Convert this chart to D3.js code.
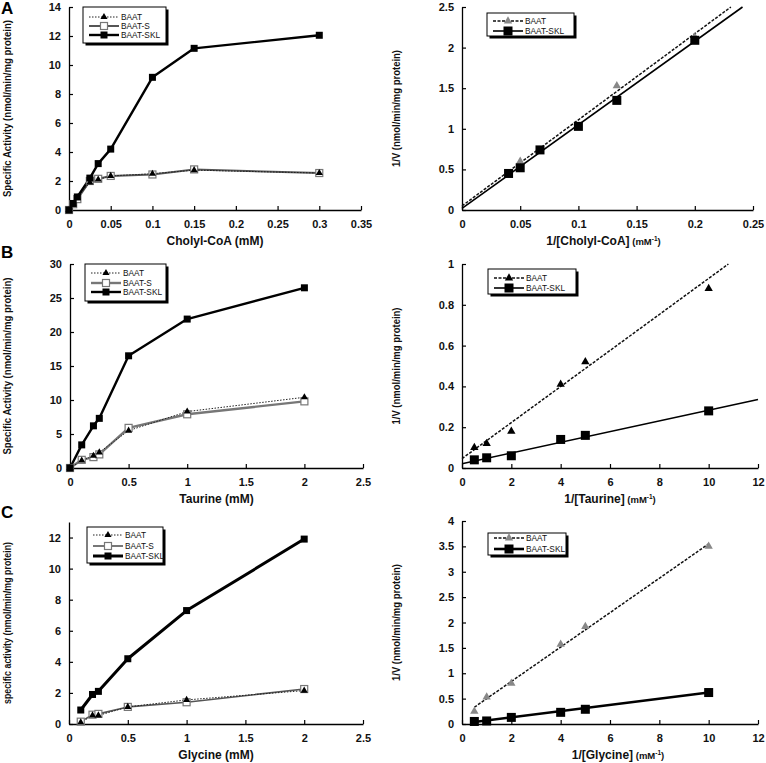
<!DOCTYPE html>
<html><head><meta charset="utf-8">
<script src="https://cdn.jsdelivr.net/npm/d3@7"></script>
<style>body{margin:0;background:#fff}svg{display:block}text{font-family:"Liberation Sans",Arial,Helvetica,sans-serif}</style>
</head><body><svg id="c" width="766" height="763"></svg>
<script>
// ---------- DATA ----------
// Panel A (cholyl-CoA)
const cholylX      = [0, 0.005, 0.01, 0.025, 0.035, 0.05, 0.1, 0.15, 0.3];
const cholylBAAT   = [0, 0.40, 0.85, 1.90, 2.10, 2.35, 2.50, 2.75, 2.55];
const cholylBAATS  = [0, 0.40, 0.75, 2.00, 2.15, 2.35, 2.45, 2.80, 2.55];
const cholylSKL    = [0, 0.45, 0.90, 2.20, 3.20, 4.20, 9.15, 11.15, 12.05];
const cholylInvBAATX = [0.05, 0.133, 0.2];
const cholylInvBAATY = [0.60, 1.53, 2.13];
const cholylInvSKLX  = [0.04, 0.05, 0.067, 0.1, 0.133, 0.2];
const cholylInvSKLY  = [0.45, 0.52, 0.74, 1.03, 1.35, 2.09];
const cholylFitBAATX = [0, 0.231];
const cholylFitBAATY = [0.05, 2.5];
const cholylFitSKLX  = [0, 0.241];
const cholylFitSKLY  = [0.02, 2.5];
// Panel B (taurine)
const taurineX     = [0, 0.1, 0.2, 0.25, 0.5, 1, 2];
const taurineBAAT  = [0, 1.1, 1.8, 2.3, 5.5, 8.3, 10.4];
const taurineBAATS = [0, 1.2, 1.6, 2.0, 5.9, 7.9, 9.8];
const taurineSKL   = [0, 3.4, 6.2, 7.3, 16.5, 21.9, 26.5];
const taurineInvX     = [0.5, 1, 2, 4, 5, 10];
const taurineInvBAAT  = [0.10, 0.12, 0.18, 0.41, 0.52, 0.88];
const taurineInvSKL   = [0.04, 0.05, 0.06, 0.14, 0.16, 0.28];
const taurineFitBAATX = [0, 10.8];
const taurineFitBAATY = [0.046, 1.0];
const taurineFitSKLX  = [0, 12];
const taurineFitSKLY  = [0.021, 0.336];
// Panel C (glycine)
const glycineX     = [0.1, 0.2, 0.25, 0.5, 1, 2];
const glycineBAAT  = [0.10, 0.55, 0.55, 1.10, 1.55, 2.15];
const glycineBAATS = [0.15, 0.60, 0.65, 1.10, 1.40, 2.25];
const glycineSKL   = [0.90, 1.90, 2.10, 4.20, 7.30, 11.90];
const glycineInvX     = [0.5, 1, 2, 4, 5, 10];
const glycineInvBAAT  = [0.25, 0.53, 0.80, 1.57, 1.92, 3.50];
const glycineInvSKL   = [0.05, 0.06, 0.13, 0.23, 0.29, 0.62];
const glycineFitBAATX = [0.5, 10];
const glycineFitBAATY = [0.33, 3.55];
const glycineFitSKLX  = [0.5, 10];
const glycineFitSKLY  = [0.04, 0.62];
// Ticks
const ticksCholylX = [0, 0.05, 0.1, 0.15, 0.2, 0.25, 0.3, 0.35];
const ticksActA    = [0, 2, 4, 6, 8, 10, 12, 14];
const ticksInvCholylX = [0, 0.05, 0.1, 0.15, 0.2, 0.25];
const ticksInvA    = [0, 0.5, 1, 1.5, 2, 2.5];
const ticksConc    = [0, 0.5, 1, 1.5, 2, 2.5];
const ticksActB    = [0, 5, 10, 15, 20, 25, 30];
const ticksInvConc = [0, 2, 4, 6, 8, 10, 12];
const ticksInvB    = [0, 0.2, 0.4, 0.6, 0.8, 1];
const ticksActC    = [0, 2, 4, 6, 8, 10, 12];
const ticksInvC    = [0, 0.5, 1, 1.5, 2, 2.5, 3, 3.5, 4];
const seriesNames3 = ["BAAT", "BAAT-S", "BAAT-SKL"];
const seriesNames2 = ["BAAT", "BAAT-SKL"];
const panelLetters = ["A", "B", "C"];

// ---------- DRAWING ----------
const svg = d3.select("#c");
const fmt = d => String(+d.toFixed(3));
const zip = (xs, ys) => xs.map((x, i) => [x, ys[i]]);

function marker(g, type, x, y, st) {
  if (type === "tri") {
    g.append("path").attr("d", d3.symbol(d3.symbolTriangle, st.size)())
      .attr("transform", `translate(${x},${y})`).attr("fill", st.fill).attr("stroke", "none");
  } else {
    const s = st.size;
    g.append("rect").attr("x", x - s / 2).attr("y", y - s / 2).attr("width", s).attr("height", s)
      .attr("fill", st.fill).attr("stroke", st.stroke || "none").attr("stroke-width", st.sw || 0);
  }
}

function panel(c) {
  const x = d3.scaleLinear().domain(c.xd).range([c.left, c.right]);
  const y = d3.scaleLinear().domain(c.yd).range([c.bottom, c.top]);
  const g = svg.append("g");
  const ax = g.append("g").attr("transform", `translate(0,${c.bottom})`)
    .call(d3.axisBottom(x).tickValues(c.xt).tickFormat(fmt).tickSizeInner(-4).tickSizeOuter(0).tickPadding(8));
  const ay = g.append("g").attr("transform", `translate(${c.left},0)`)
    .call(d3.axisLeft(y).tickValues(c.yt).tickFormat(fmt).tickSizeInner(-4).tickSizeOuter(0).tickPadding(8));
  [ax, ay].forEach(a => {
    a.select(".domain").attr("stroke", "#000").attr("stroke-width", 1.3);
    a.selectAll(".tick line").attr("stroke", "#000").attr("stroke-width", 1.2);
    a.selectAll("text").attr("font-size", 11).attr("font-weight", "bold").attr("fill", "#111")
      .attr("font-family", '"Liberation Sans",Arial,sans-serif');
  });
  ax.selectAll(".tick text").attr("dy", "0.95em");
  const xt = g.append("text").attr("x", (c.left + c.right) / 2 + (c.xtOff || 0)).attr("y", c.bottom + 35)
    .attr("text-anchor", "middle").attr("font-size", 12).attr("font-weight", "bold").attr("fill", "#111");
  xt.append("tspan").text(c.xTitle);
  if (c.xUnit) {
    xt.append("tspan").attr("font-size", 9.5).text(" (mM");
    xt.append("tspan").attr("font-size", 6.5).attr("dy", -4).text("-1");
    xt.append("tspan").attr("font-size", 9.5).attr("dy", 4).text(")");
  }
  g.append("text").attr("transform", `translate(${c.ytx},${(c.top + c.bottom) / 2}) rotate(-90)`)
    .attr("text-anchor", "middle").attr("font-size", 10).attr("font-weight", "bold").attr("fill", "#111")
    .attr("textLength", c.ytLen).attr("lengthAdjust", "spacingAndGlyphs")
    .text(c.yTitle);
  if (c.letter) {
    g.append("text").attr("x", 1).attr("y", c.letterY).attr("font-size", 17).attr("font-weight", "bold")
      .attr("fill", "#000").text(c.letter);
  }
  (c.fits || []).forEach(f => {
    g.append("path").attr("d", d3.line().x(d => x(d[0])).y(d => y(d[1]))(zip(f.xs, f.ys)))
      .attr("fill", "none").attr("stroke", f.stroke).attr("stroke-width", f.sw)
      .attr("stroke-dasharray", f.dash || null);
  });
  c.series.forEach(s => {
    if (s.line) {
      g.append("path").attr("d", d3.line().x(d => x(d[0])).y(d => y(d[1]))(zip(s.xs, s.ys)))
        .attr("fill", "none").attr("stroke", s.line.stroke).attr("stroke-width", s.line.sw)
        .attr("stroke-dasharray", s.line.dash || null).attr("stroke-linejoin", "round");
    }
  });
  c.series.forEach(s => zip(s.xs, s.ys).forEach(d => marker(g, s.mk, x(d[0]), y(d[1]), s.ms)));
  const L = c.legend;
  g.append("rect").attr("x", L.x + 2.5).attr("y", L.y + 2.5).attr("width", L.w).attr("height", L.h).attr("fill", "#000");
  g.append("rect").attr("x", L.x).attr("y", L.y).attr("width", L.w).attr("height", L.h)
    .attr("fill", "#fff").attr("stroke", "#000").attr("stroke-width", 1);
  L.items.forEach((it, i) => {
    const yy = L.rows[i];
    g.append("line").attr("x1", L.x + L.l0).attr("x2", L.x + L.l1).attr("y1", yy).attr("y2", yy)
      .attr("stroke", it.ls.stroke).attr("stroke-width", it.ls.sw).attr("stroke-dasharray", it.ls.dash || null);
    marker(g, it.mk, L.x + (L.l0 + L.l1) / 2, yy, it.ms);
    g.append("text").attr("x", L.x + L.l1 + 2).attr("y", yy + 3).attr("font-size", 8.3)
      .attr("fill", "#111").text(it.name);
  });
}

// styles
const dotLine = {stroke: "#222", sw: 1, dash: "1.5,1.5"};
const dashLine = {stroke: "#111", sw: 1.5, dash: "3,1.5"};
const triSmall = {size: 22, fill: "#000"};
const triGrey = {size: 30, fill: "#888"};
const triBlack = {size: 30, fill: "#000"};
const sqOpen = {size: 7, fill: "#fff", stroke: "#777", sw: 1.2};
const sqFill = {size: 7, fill: "#000"};
const sqBig = {size: 9, fill: "#000"};

function leftSeries(xs, b, s, k, sLine, kLine) {
  return [
    {xs, ys: s, mk: "sq", ms: sqOpen, line: sLine},
    {xs, ys: b, mk: "tri", ms: triSmall, line: dotLine},
    {xs, ys: k, mk: "sq", ms: sqFill, line: kLine}];
}
function leftLegend(x, y, w, h, rows, sLine, kLine) {
  return {x, y, w, h, rows, l0: 6, l1: 36, items: [
    {name: seriesNames3[0], mk: "tri", ms: triSmall, ls: dotLine},
    {name: seriesNames3[1], mk: "sq", ms: sqOpen, ls: sLine},
    {name: seriesNames3[2], mk: "sq", ms: sqFill, ls: kLine}]};
}
function rightLegend(x, y, w, h, rows, tri, kLine) {
  return {x, y, w, h, rows, l0: 6, l1: 36, items: [
    {name: seriesNames2[0], mk: "tri", ms: tri, ls: dashLine},
    {name: seriesNames2[1], mk: "sq", ms: sqBig, ls: kLine}]};
}

// Panel A
const aS = {stroke: "#555", sw: 2}, aK = {stroke: "#000", sw: 2.4};
panel({left: 69, right: 361, top: 7, bottom: 210, xd: [0, 0.35], yd: [0, 14], xt: ticksCholylX, yt: ticksActA,
  xTitle: "Cholyl-CoA (mM)", yTitle: "Specific Activity (nmol/min/mg protein)", ytx: 11, ytLen: 177,
  letter: panelLetters[0], letterY: 14,
  series: leftSeries(cholylX, cholylBAAT, cholylBAATS, cholylSKL, aS, aK),
  legend: leftLegend(83, 7, 83, 36, [17, 26, 35], aS, aK)});
const arK = {stroke: "#000", sw: 1.6};
panel({left: 462, right: 753, top: 7, bottom: 210, xd: [0, 0.25], yd: [0, 2.5], xt: ticksInvCholylX, yt: ticksInvA,
  xTitle: "1/[Cholyl-CoA]", xUnit: true, xtOff: -4, yTitle: "1/V (nmol/min/mg protein)", ytx: 400, ytLen: 117,
  fits: [{xs: cholylFitBAATX, ys: cholylFitBAATY, ...dashLine}, {xs: cholylFitSKLX, ys: cholylFitSKLY, ...arK}],
  series: [
    {xs: cholylInvBAATX, ys: cholylInvBAATY, mk: "tri", ms: triGrey},
    {xs: cholylInvSKLX, ys: cholylInvSKLY, mk: "sq", ms: sqBig}],
  legend: rightLegend(487, 13, 87, 23, [21, 31], triGrey, arK)});

// Panel B
const bS = {stroke: "#777", sw: 2.4}, bK = {stroke: "#000", sw: 2.4};
panel({left: 70, right: 363, top: 264, bottom: 468, xd: [0, 2.5], yd: [0, 30], xt: ticksConc, yt: ticksActB,
  xTitle: "Taurine (mM)", yTitle: "Specific Activity (nmol/min/mg protein)", ytx: 11, ytLen: 177,
  letter: panelLetters[1], letterY: 258,
  series: leftSeries(taurineX, taurineBAAT, taurineBAATS, taurineSKL, bS, bK),
  legend: leftLegend(85, 264, 81, 37, [273, 283, 292], bS, bK)});
panel({left: 462, right: 758, top: 264, bottom: 468, xd: [0, 12], yd: [0, 1], xt: ticksInvConc, yt: ticksInvB,
  xTitle: "1/[Taurine]", xUnit: true, yTitle: "1/V (nmol/min/mg protein)", ytx: 400, ytLen: 117,
  fits: [{xs: taurineFitBAATX, ys: taurineFitBAATY, ...dashLine}, {xs: taurineFitSKLX, ys: taurineFitSKLY, ...arK}],
  series: [
    {xs: taurineInvX, ys: taurineInvBAAT, mk: "tri", ms: triBlack},
    {xs: taurineInvX, ys: taurineInvSKL, mk: "sq", ms: sqBig}],
  legend: rightLegend(488, 269, 88, 25, [278, 288], triBlack, arK)});

// Panel C
const cS = {stroke: "#555", sw: 1.6}, cK = {stroke: "#000", sw: 3};
panel({left: 69, right: 363, top: 522, bottom: 724, xd: [0, 2.5], yd: [0, 13], xt: ticksConc, yt: ticksActC,
  xTitle: "Glycine (mM)", yTitle: "specific activity (nmol/min/mg protein)", ytx: 11, ytLen: 162,
  letter: panelLetters[2], letterY: 518,
  series: leftSeries(glycineX, glycineBAAT, glycineBAATS, glycineSKL, cS, cK),
  legend: leftLegend(87, 527, 76, 36, [535, 546, 556], cS, cK)});
const crK = {stroke: "#000", sw: 2.6};
panel({left: 462, right: 758, top: 521, bottom: 724, xd: [0, 12], yd: [0, 4], xt: ticksInvConc, yt: ticksInvC,
  xTitle: "1/[Glycine]", xUnit: true, xtOff: 8, yTitle: "1/V (nmol/min/mg protein)", ytx: 400, ytLen: 117,
  fits: [{xs: glycineFitBAATX, ys: glycineFitBAATY, ...dashLine}, {xs: glycineFitSKLX, ys: glycineFitSKLY, ...crK}],
  series: [
    {xs: glycineInvX, ys: glycineInvBAAT, mk: "tri", ms: triGrey},
    {xs: glycineInvX, ys: glycineInvSKL, mk: "sq", ms: sqBig}],
  legend: rightLegend(488, 533, 78, 22, [538, 549], triGrey, crK)});
</script>
</body></html>
